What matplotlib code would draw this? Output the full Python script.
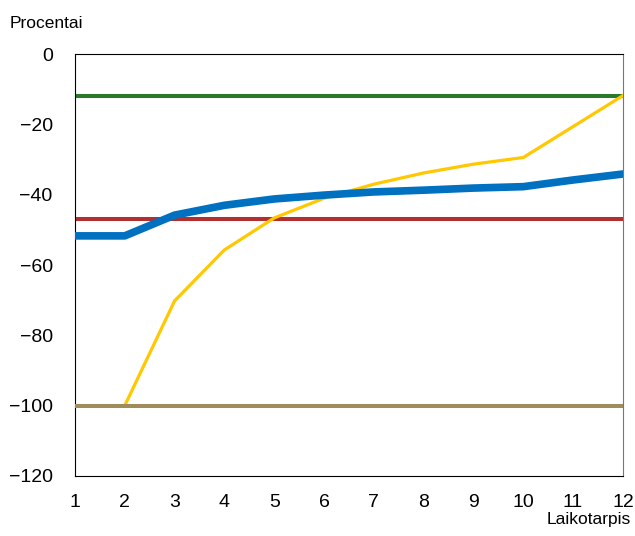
import matplotlib
matplotlib.use('Agg')
import matplotlib.pyplot as plt

plt.rcParams['font.family'] = ['Liberation Sans', 'DejaVu Sans']

periods = [1, 2, 3, 4, 5, 6, 7, 8, 9, 10, 11, 12]
blue = [-51.7, -51.7, -45.8, -43.0, -41.2, -40.1, -39.2, -38.7, -38.1, -37.7, -35.8, -34.1]
yellow = [-100, -100, -70.2, -55.7, -46.6, -41.0, -37.0, -33.8, -31.3, -29.4, -20.6, -11.8]
green_level = -11.8
red_level = -47.0
tan_level = -100.0

fig = plt.figure(figsize=(6.35, 5.36), dpi=100)
ax = fig.add_axes([0.118, 0.112, 0.863, 0.787])

ax.axhline(green_level, color='#2a7a2a', linewidth=2.9, zorder=2)
ax.axhline(red_level, color='#b22f2f', linewidth=2.9, zorder=2)
ax.plot(periods, yellow, color='#ffc800', linewidth=2.3, zorder=3)
ax.axhline(tan_level, color='#a08c5a', linewidth=2.9, zorder=3.5)
ax.plot(periods, blue, color='#0070c0', linewidth=5.5, zorder=4)

ax.set_xlim(1, 12)
ax.set_ylim(-120, 0)
ax.set_xticks(periods)
ax.set_yticks(range(-120, 1, 20))
ax.tick_params(length=0, labelsize=14)
ax.tick_params(axis='x', pad=13)
ax.tick_params(axis='y', pad=16)
for s in ['left', 'bottom', 'top']:
    ax.spines[s].set_color('black')
ax.spines['right'].set_color('#777777')

fig.text(0.015, 0.957, 'Procentai', fontsize=12.5, ha='left', va='center')
fig.text(0.993, 0.030, 'Laikotarpis', fontsize=12.5, ha='right', va='center')

fig.savefig('out.png', dpi=100)
